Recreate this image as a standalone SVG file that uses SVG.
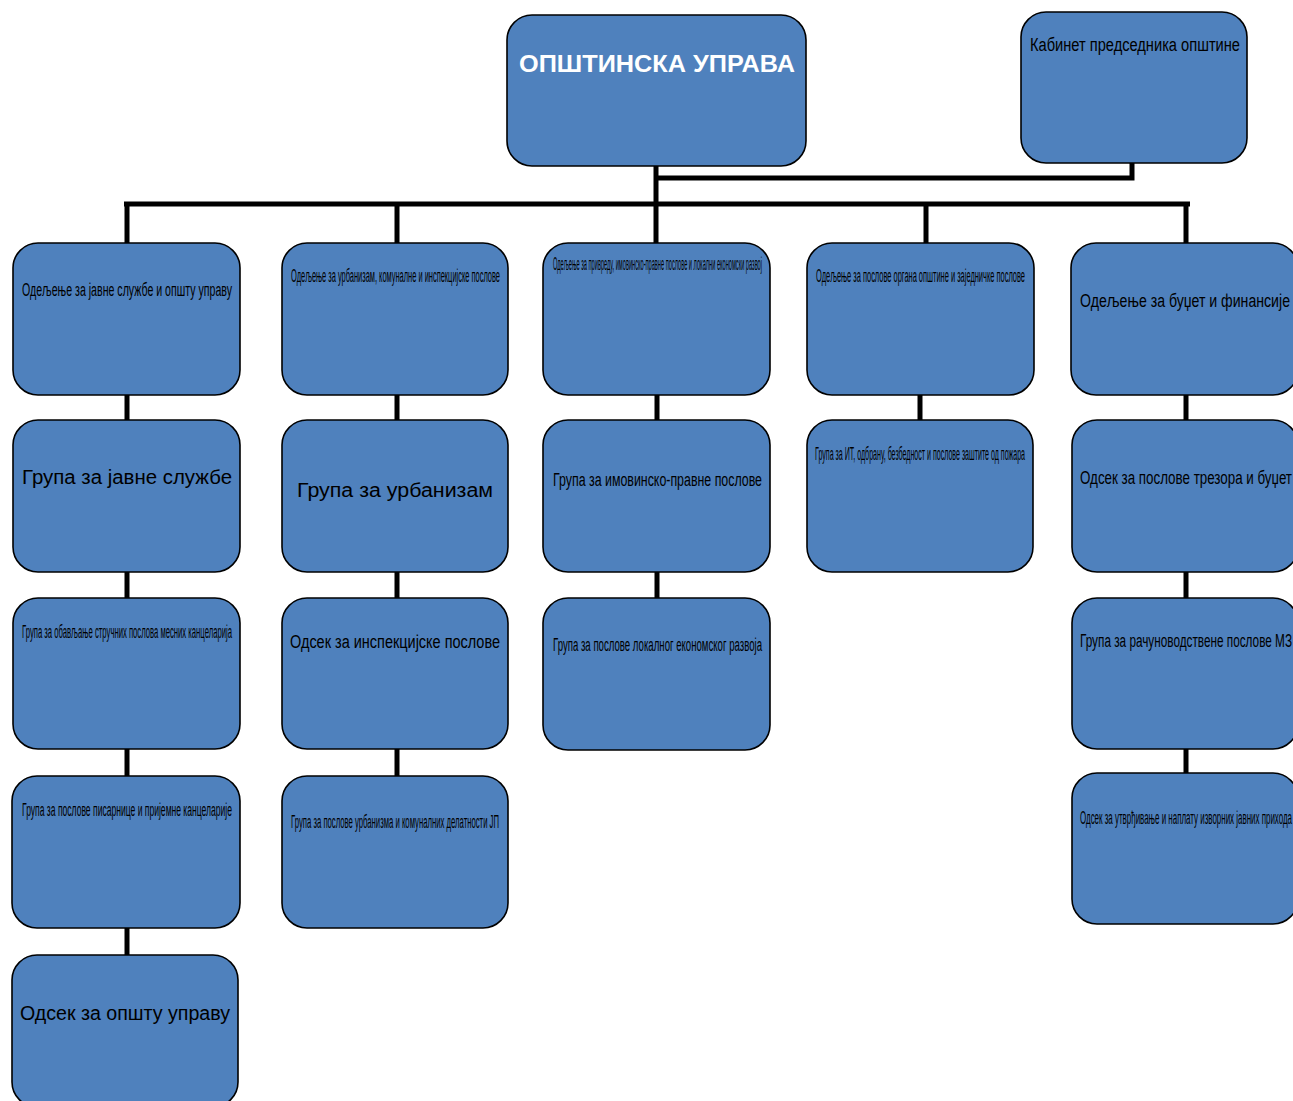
<svg xmlns="http://www.w3.org/2000/svg" width="1293" height="1101" viewBox="0 0 1293 1101">
<style>
.box{fill:#4f81bd;stroke:#000;stroke-width:1.6}
.t{font-family:"Liberation Sans",Arial,sans-serif;font-size:18px;fill:#000}
.n{font-family:"Liberation Sans",Arial,sans-serif;font-size:20px;fill:#000}
.h{font-family:"Liberation Sans",Arial,sans-serif;font-size:23px;font-weight:bold;fill:#fff}
.ln{stroke:#000;stroke-width:5;fill:none}
</style>
<rect width="1293" height="1101" fill="#fff"/>
<g id="connectors">
<path class="ln" d="M656 166V204M656 178H1132V163M124 204H1190M127 204V243M397 204V243M656 204V243M926 204V243M1186 204V243"/>
<path class="ln" d="M127 395V420M127 572V598M127 749V776M127 928V955"/>
<path class="ln" d="M397 395V420M397 572V598M397 749V776"/>
<path class="ln" d="M657 395V420M657 572V598"/>
<path class="ln" d="M920 395V420"/>
<path class="ln" d="M1186 395V420M1186 572V598M1186 749V773"/>
</g>
<g id="uprava"><rect class="box" x="507" y="15" width="299" height="151" rx="25"/><text class="h" x="519" y="72" textLength="276" lengthAdjust="spacingAndGlyphs">ОПШТИНСКА УПРАВА</text></g>
<g id="kabinet"><rect class="box" x="1021" y="12" width="226" height="151" rx="25"/><text class="t" x="1030" y="51" textLength="210" lengthAdjust="spacingAndGlyphs">Кабинет председника општине</text></g>

<g id="c1r1"><rect class="box" x="13" y="243" width="227" height="152" rx="25"/><text class="t" x="22" y="296" textLength="210" lengthAdjust="spacingAndGlyphs">Одељење за јавне службе и општу управу</text></g>
<g id="c2r1"><rect class="box" x="282" y="243" width="226" height="152" rx="25"/><text class="t" x="291" y="282" textLength="209" lengthAdjust="spacingAndGlyphs">Одељење за урбанизам, комуналне и инспекцијске послове</text></g>
<g id="c3r1"><rect class="box" x="543" y="243" width="227" height="152" rx="25"/><text class="t" x="553" y="270" textLength="209" lengthAdjust="spacingAndGlyphs">Одељење за привреду, имовинско-правне послове и локални економски развој</text></g>
<g id="c4r1"><rect class="box" x="807" y="243" width="227" height="152" rx="25"/><text class="t" x="816" y="282" textLength="209" lengthAdjust="spacingAndGlyphs">Одељење за послове органа општине и заједничке послове</text></g>
<g id="c5r1"><rect class="box" x="1071" y="243" width="227" height="152" rx="25"/><text class="t" x="1080" y="307" textLength="210" lengthAdjust="spacingAndGlyphs">Одељење за буџет и финансије</text></g>

<g id="c1r2"><rect class="box" x="13" y="420" width="227" height="152" rx="25"/><text class="n" x="22" y="484" textLength="210" lengthAdjust="spacingAndGlyphs">Група за јавне службе</text></g>
<g id="c2r2"><rect class="box" x="282" y="420" width="226" height="152" rx="25"/><text class="n" x="297" y="497" textLength="196" lengthAdjust="spacingAndGlyphs">Група за урбанизам</text></g>
<g id="c3r2"><rect class="box" x="543" y="420" width="227" height="152" rx="25"/><text class="t" x="553" y="486" textLength="209" lengthAdjust="spacingAndGlyphs">Група за имовинско-правне послове</text></g>
<g id="c4r2"><rect class="box" x="807" y="420" width="226" height="152" rx="25"/><text class="t" x="815" y="460" textLength="210" lengthAdjust="spacingAndGlyphs">Група за ИТ, одбрану, безбедност и послове заштите од пожара</text></g>
<g id="c5r2"><rect class="box" x="1072" y="420" width="226" height="152" rx="25"/><text class="t" x="1080" y="484" textLength="212" lengthAdjust="spacingAndGlyphs">Одсек за послове трезора и буџет</text></g>

<g id="c1r3"><rect class="box" x="13" y="598" width="227" height="151" rx="25"/><text class="t" x="22" y="638" textLength="210" lengthAdjust="spacingAndGlyphs">Група за обављање стручних послова месних канцеларија</text></g>
<g id="c2r3"><rect class="box" x="282" y="598" width="226" height="151" rx="25"/><text class="t" x="290" y="648" textLength="210" lengthAdjust="spacingAndGlyphs">Одсек за инспекцијске послове</text></g>
<g id="c3r3"><rect class="box" x="543" y="598" width="227" height="152" rx="25"/><text class="t" x="553" y="651" textLength="209" lengthAdjust="spacingAndGlyphs">Група за послове локалног економског развоја</text></g>
<g id="c5r3"><rect class="box" x="1072" y="598" width="226" height="151" rx="25"/><text class="t" x="1080" y="647" textLength="212" lengthAdjust="spacingAndGlyphs">Група за рачуноводствене послове МЗ</text></g>

<g id="c1r4"><rect class="box" x="12" y="776" width="228" height="152" rx="25"/><text class="t" x="22" y="816" textLength="210" lengthAdjust="spacingAndGlyphs">Група за послове писарнице и пријемне канцеларије</text></g>
<g id="c2r4"><rect class="box" x="282" y="776" width="226" height="152" rx="25"/><text class="t" x="291" y="828" textLength="208" lengthAdjust="spacingAndGlyphs">Група за послове урбанизма и комуналних делатности ЈП</text></g>
<g id="c5r4"><rect class="box" x="1072" y="773" width="226" height="151" rx="25"/><text class="t" x="1080" y="824" textLength="212" lengthAdjust="spacingAndGlyphs">Одсек за утврђивање и наплату изворних јавних прихода</text></g>

<g id="c1r5"><rect class="box" x="12" y="955" width="226" height="152" rx="25"/><text class="n" x="20" y="1020" textLength="210" lengthAdjust="spacingAndGlyphs">Одсек за општу управу</text></g>
</svg>
